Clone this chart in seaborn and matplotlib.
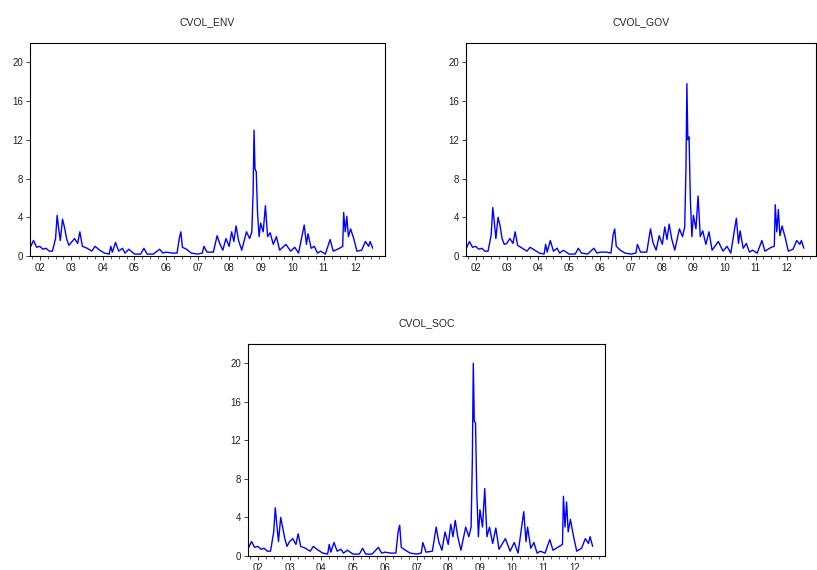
import matplotlib
matplotlib.use("Agg")
import matplotlib.pyplot as plt
import seaborn as sns
import pandas as pd

sns.set_theme(style="white")
plt.rcParams["font.family"] = ["Liberation Sans", "DejaVu Sans"]

# decimal years and values
dates = [2001.70, 2001.80, 2001.90, 2002.00, 2002.10, 2002.20, 2002.30, 2002.40, 2002.50, 2002.55,
         2002.60, 2002.65, 2002.72, 2002.78, 2002.85, 2002.92, 2003.00, 2003.10, 2003.20, 2003.27,
         2003.35, 2003.50, 2003.65, 2003.75, 2003.90, 2004.05, 2004.20, 2004.25, 2004.30, 2004.40,
         2004.50, 2004.62, 2004.70, 2004.82, 2005.00, 2005.20, 2005.30, 2005.40, 2005.60, 2005.80,
         2005.90, 2006.00, 2006.20, 2006.35, 2006.42, 2006.47, 2006.52, 2006.65, 2006.80, 2007.00,
         2007.15, 2007.20, 2007.30, 2007.50, 2007.62, 2007.70, 2007.80, 2007.90, 2008.00, 2008.08,
         2008.15, 2008.22, 2008.30, 2008.40, 2008.55, 2008.65, 2008.72, 2008.76, 2008.79, 2008.82,
         2008.86, 2008.90, 2008.95, 2009.00, 2009.08, 2009.15, 2009.22, 2009.30, 2009.40, 2009.50,
         2009.60, 2009.80, 2009.95, 2010.08, 2010.20, 2010.38, 2010.45, 2010.50, 2010.60, 2010.70,
         2010.80, 2010.90, 2011.05, 2011.20, 2011.30, 2011.50, 2011.60, 2011.63, 2011.68, 2011.73,
         2011.78, 2011.85, 2011.95, 2012.05, 2012.20, 2012.32, 2012.42, 2012.47, 2012.55]

cvol_env = [0.9, 1.6, 0.9, 1.0, 0.7, 0.8, 0.5, 0.5, 1.8, 4.2,
            2.8, 1.6, 3.8, 3.0, 1.8, 1.1, 1.4, 1.8, 1.3, 2.5,
            1.0, 0.8, 0.5, 1.0, 0.6, 0.3, 0.2, 1.0, 0.4, 1.4,
            0.5, 0.8, 0.3, 0.7, 0.2, 0.2, 0.8, 0.2, 0.2, 0.7,
            0.3, 0.4, 0.3, 0.3, 1.8, 2.5, 0.9, 0.7, 0.3, 0.2,
            0.3, 1.0, 0.4, 0.4, 2.1, 1.3, 0.6, 1.8, 1.0, 2.5,
            1.5, 3.1, 1.6, 0.6, 2.5, 1.8, 2.5, 6.5, 13.0, 9.0,
            8.7, 4.5, 2.0, 3.4, 2.5, 5.2, 2.0, 2.4, 1.2, 2.0,
            0.6, 1.2, 0.5, 0.9, 0.3, 3.2, 1.2, 2.3, 0.8, 1.0,
            0.3, 0.5, 0.2, 1.7, 0.5, 0.8, 1.0, 4.5, 2.5, 4.1,
            2.0, 2.8, 1.8, 0.5, 0.6, 1.5, 1.0, 1.5, 0.8]

cvol_gov = [0.8, 1.5, 0.9, 1.0, 0.7, 0.8, 0.5, 0.5, 2.2, 5.0,
            3.5, 1.8, 4.0, 3.2, 1.8, 1.2, 1.3, 1.8, 1.3, 2.5,
            1.1, 0.8, 0.5, 0.9, 0.6, 0.3, 0.2, 1.2, 0.4, 1.6,
            0.5, 0.8, 0.3, 0.6, 0.2, 0.2, 0.8, 0.3, 0.2, 0.8,
            0.3, 0.4, 0.4, 0.3, 2.2, 2.8, 1.0, 0.6, 0.3, 0.2,
            0.3, 1.2, 0.4, 0.4, 2.8, 1.4, 0.6, 2.1, 1.2, 3.0,
            1.7, 3.3, 1.8, 0.6, 2.8, 2.0, 3.0, 9.0, 17.8, 12.0,
            12.3, 6.0, 2.0, 4.2, 2.8, 6.2, 2.0, 2.6, 1.2, 2.5,
            0.6, 1.5, 0.5, 1.0, 0.3, 3.9, 1.3, 2.6, 0.8, 1.3,
            0.4, 0.6, 0.3, 1.6, 0.5, 0.9, 1.0, 5.3, 2.5, 4.8,
            2.1, 3.1, 1.9, 0.5, 0.7, 1.6, 1.2, 1.6, 0.8]

cvol_soc = [0.8, 1.5, 0.9, 1.0, 0.7, 0.8, 0.5, 0.5, 2.5, 5.0,
            3.2, 1.5, 4.0, 3.0, 1.8, 1.0, 1.5, 1.8, 1.2, 2.3,
            1.0, 0.8, 0.5, 1.0, 0.6, 0.3, 0.2, 1.2, 0.4, 1.4,
            0.5, 0.7, 0.3, 0.6, 0.2, 0.2, 0.8, 0.2, 0.2, 0.9,
            0.3, 0.4, 0.3, 0.3, 2.5, 3.2, 0.9, 0.6, 0.3, 0.2,
            0.3, 1.4, 0.4, 0.5, 3.0, 1.5, 0.6, 2.5, 1.2, 3.3,
            2.0, 3.7, 2.0, 0.6, 3.0, 2.0, 3.0, 10.0, 20.0, 14.0,
            13.8, 6.5, 2.0, 4.8, 3.0, 7.0, 2.0, 3.0, 1.3, 2.9,
            0.7, 1.8, 0.5, 1.4, 0.3, 4.6, 1.5, 3.0, 0.8, 1.4,
            0.3, 0.5, 0.3, 1.7, 0.6, 1.0, 1.2, 6.2, 3.0, 5.6,
            2.5, 3.8, 2.0, 0.5, 0.8, 1.8, 1.3, 2.0, 1.0]

years = list(range(2002, 2013))
year_labels = [f"{y % 100:02d}" for y in years]

df = pd.DataFrame({"date": dates, "CVOL_ENV": cvol_env, "CVOL_GOV": cvol_gov, "CVOL_SOC": cvol_soc})

fig = plt.figure(figsize=(8.17, 5.7), dpi=100)
W, H = 817, 570
boxes = {
    "CVOL_ENV": (30, 43, 385, 256),
    "CVOL_GOV": (466, 43, 816, 256),
    "CVOL_SOC": (248, 344, 605, 556),
}

for name, (x0, y0, x1, y1) in boxes.items():
    ax = fig.add_axes([x0 / W, 1 - y1 / H, (x1 - x0) / W, (y1 - y0) / H])
    sns.lineplot(data=df, x="date", y=name, ax=ax, color="#0000ff", linewidth=1.0)
    ax.set_xlim(2001.69, 2012.94)
    ax.set_ylim(0, 22)
    ax.set_yticks([0, 4, 8, 12, 16, 20])
    ax.set_xticks(years)
    ax.set_xticklabels(year_labels)
    ax.set_xticks([y + q for y in range(2001, 2013) for q in (0.25, 0.5, 0.75)
                   if 2001.69 < y + q < 2012.94], minor=True)
    ax.tick_params(axis="both", labelsize=7, direction="out", length=3, width=0.6,
                   colors="#222222", pad=2, bottom=True, left=True)
    ax.tick_params(axis="x", which="minor", length=2, width=0.5, bottom=True)
    ax.set_xlabel("")
    ax.set_ylabel("")
    for s in ax.spines.values():
        s.set_color("black")
        s.set_linewidth(0.8)
    fig.text((x0 + x1) / 2 / W, 1 - (y0 - 21) / H, name, ha="center", va="center", fontsize=7.5)

fig.savefig("out.png", dpi=100)
